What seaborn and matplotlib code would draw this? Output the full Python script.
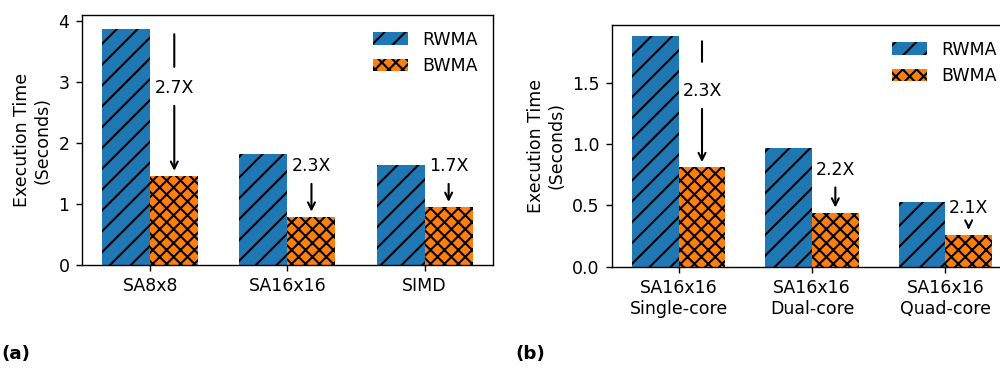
import numpy as np
import pandas as pd
import matplotlib
matplotlib.use('Agg')
import matplotlib.pyplot as plt
import seaborn as sns
from matplotlib.patches import Patch

# Data
methods = ['RWMA', 'BWMA']

configs_a = ['SA8x8', 'SA16x16', 'SIMD']
rwma_a = [3.87, 1.82, 1.64]
bwma_a = [1.46, 0.79, 0.95]
speedup_a = ['2.7X', '2.3X', '1.7X']

configs_b = ['SA16x16\nSingle-core', 'SA16x16\nDual-core', 'SA16x16\nQuad-core']
rwma_b = [1.88, 0.97, 0.53]
bwma_b = [0.81, 0.44, 0.26]
speedup_b = ['2.3X', '2.2X', '2.1X']

# Annotation layout (text heights, and end of leader line where drawn)
label_y_a = [2.90, 1.62, 1.62]
line_end_a = [3.25, None, None]
label_y_b = [1.43, 0.79, 0.48]
line_end_b = [1.67, None, None]

colors = ['#1f77b4', '#ff7f0e']
hatches = ['//', 'xxx']

plt.rcParams['font.size'] = 10
plt.rcParams['hatch.color'] = 'black'
plt.rcParams['hatch.linewidth'] = 1.2


def make_df(configs, rwma, bwma):
    return pd.DataFrame({
        'config': configs * 2,
        'method': ['RWMA'] * len(configs) + ['BWMA'] * len(configs),
        'time': rwma + bwma,
    })


def draw_panel(ax, configs, rwma, bwma, speedups, label_y, line_end, ylim):
    df = make_df(configs, rwma, bwma)
    sns.barplot(data=df, x='config', y='time', hue='method', hue_order=methods,
                palette=colors, saturation=1, width=0.7, errorbar=None,
                legend=False, ax=ax)
    for cont, h in zip(ax.containers, hatches):
        for p in cont.patches:
            p.set_hatch(h)
            p.set_edgecolor('black')
            p.set_linewidth(0)
    ax.set_ylim(*ylim)
    ax.set_xlabel('')
    ax.set_ylabel('Execution Time\n(Seconds)')

    for i, (top, low, lab, ty, le) in enumerate(zip(rwma, bwma, speedups, label_y, line_end)):
        x = i + 0.175
        ax.annotate(lab, xy=(x, low), xytext=(x, ty), ha='center', va='center',
                    arrowprops=dict(arrowstyle='->', color='black', lw=1.2,
                                    shrinkA=3, shrinkB=3))
        if le is not None:
            ax.annotate('', xy=(x, le), xytext=(x, top),
                        arrowprops=dict(arrowstyle='-', color='black', lw=1.2,
                                        shrinkA=3, shrinkB=0))

    handles = [Patch(facecolor=c, hatch=h, edgecolor='black', linewidth=0)
               for c, h in zip(colors, hatches)]
    ax.legend(handles, methods, loc='upper right', frameon=False)


fig = plt.figure(figsize=(8, 2.952), dpi=125)
ax_a = fig.add_axes([0.0817, 0.2818, 0.4115, 0.6775])
ax_b = fig.add_axes([0.612, 0.2772, 0.400, 0.655])

draw_panel(ax_a, configs_a, rwma_a, bwma_a, speedup_a, label_y_a, line_end_a, (0, 4.1))
draw_panel(ax_b, configs_b, rwma_b, bwma_b, speedup_b, label_y_b, line_end_b, (0, 1.97))
ax_a.set_yticks([0, 1, 2, 3, 4])
ax_b.set_yticks([0.0, 0.5, 1.0, 1.5])

fig.text(0.001, 0.04, '(a)', weight='bold', va='center', ha='left', fontsize=10.5)
fig.text(0.515, 0.04, '(b)', weight='bold', va='center', ha='left', fontsize=10.5)

fig.savefig('out.png', dpi=125)
